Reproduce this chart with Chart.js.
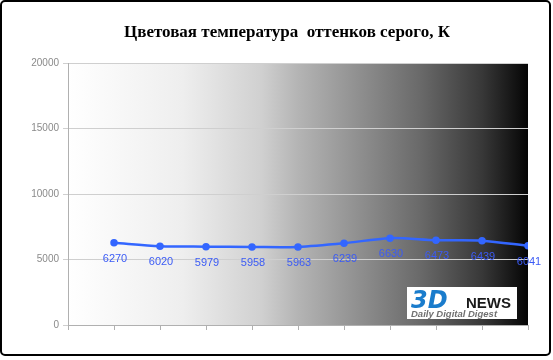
<!DOCTYPE html>
<html>
<head>
<meta charset="utf-8">
<script src="https://cdn.jsdelivr.net/npm/chart.js@4"></script>
<style>
  html, body { margin: 0; padding: 0; background: #fff; }
  #wrap { width: 553px; height: 360px; }
</style>
</head>
<body>
<div id="wrap"><canvas id="tempChart" width="553" height="360"></canvas></div>
<script>
const title = "Цветовая температура  оттенков серого, К";
const categories = [1, 2, 3, 4, 5, 6, 7, 8, 9, 10];
const temps = [6270, 6020, 5979, 5958, 5963, 6239, 6630, 6473, 6439, 6041];
const yTicks = [0, 5000, 10000, 15000, 20000];

const points = categories.map((c, i) => ({ x: c, y: temps[i] }));

// white-to-black fill behind the plot
const gradientBg = {
  id: "gradientBg",
  beforeDraw(chart) {
    const { ctx, chartArea: a } = chart;
    const g = ctx.createLinearGradient(a.left, 0, a.right, 0);
    g.addColorStop(0, "#ffffff");
    g.addColorStop(0.25, "#eeeeee");
    g.addColorStop(0.42, "#d0d0d0");
    g.addColorStop(0.5, "#b4b4b4");
    g.addColorStop(0.63, "#909090");
    g.addColorStop(0.77, "#686868");
    g.addColorStop(0.9, "#383838");
    g.addColorStop(1, "#050505");
    ctx.save();
    ctx.fillStyle = g;
    ctx.fillRect(a.left, a.top, a.right - a.left, a.bottom - a.top);
    ctx.restore();
  }
};

const extras = {
  id: "extras",
  afterDraw(chart) {
    const ctx = chart.ctx;
    ctx.save();
    // title
    ctx.fillStyle = "#000";
    ctx.font = "bold 17px 'Liberation Serif'";
    ctx.textAlign = "center";
    ctx.textBaseline = "middle";
    ctx.fillText(title, 287, 33);

    // value labels under points
    const meta = chart.getDatasetMeta(0);
    ctx.font = "11px 'Liberation Sans'";
    ctx.fillStyle = "#3b5bf5";
    meta.data.forEach((pt, i) => {
      ctx.fillText(String(temps[i]), pt.x + 1, pt.y + 16);
    });

    // watermark
    ctx.fillStyle = "#fff";
    ctx.fillRect(407, 287, 110, 32);
    ctx.textAlign = "left";
    ctx.textBaseline = "alphabetic";
    ctx.fillStyle = "#1a7ccc";
    ctx.font = "italic bold 24px 'DejaVu Sans'";
    ctx.fillText("3D", 411, 308);
    ctx.fillStyle = "#1a1a1a";
    ctx.font = "bold 15px 'Liberation Sans'";
    ctx.fillText("NEWS", 466, 308);
    ctx.fillStyle = "#707070";
    ctx.font = "italic bold 9.5px 'Liberation Sans'";
    ctx.fillText("Daily Digital Digest", 411, 317);

    // outer frame
    ctx.strokeStyle = "#000";
    ctx.lineWidth = 2;
    ctx.beginPath();
    ctx.roundRect(1, 1, 549, 354, 4);
    ctx.stroke();
    ctx.restore();
  }
};

new Chart(document.getElementById("tempChart"), {
  type: "line",
  data: {
    datasets: [{
      data: points,
      borderColor: "#3366ff",
      backgroundColor: "#3366ff",
      borderWidth: 2.5,
      pointRadius: 2.5,
      pointHoverRadius: 2.5,
      tension: 0.3
    }]
  },
  options: {
    responsive: false,
    animation: false,
    layout: { padding: { top: 63, right: 25, left: 0, bottom: 0 } },
    plugins: { legend: { display: false }, tooltip: { enabled: false } },
    scales: {
      x: {
        type: "linear",
        min: 0,
        max: 10,
        afterFit(s) { s.height = 35; },
        ticks: { stepSize: 1, callback: () => "", padding: 0 },
        grid: { drawOnChartArea: false, tickLength: 5, color: "#b0b0b0" },
        border: { color: "#b0b0b0" }
      },
      y: {
        min: 0,
        max: 20000,
        afterFit(s) { s.width = 68; },
        afterBuildTicks(s) { s.ticks = yTicks.map(v => ({ value: v })); },
        ticks: {
          padding: 4,
          color: "#8a8a8a",
          font: { family: "Liberation Sans", size: 10 },
          callback: v => String(v)
        },
        grid: { tickLength: 5, color: "#cfcfcf" },
        border: { color: "#b0b0b0" }
      }
    }
  },
  plugins: [gradientBg, extras]
});
</script>
</body>
</html>
